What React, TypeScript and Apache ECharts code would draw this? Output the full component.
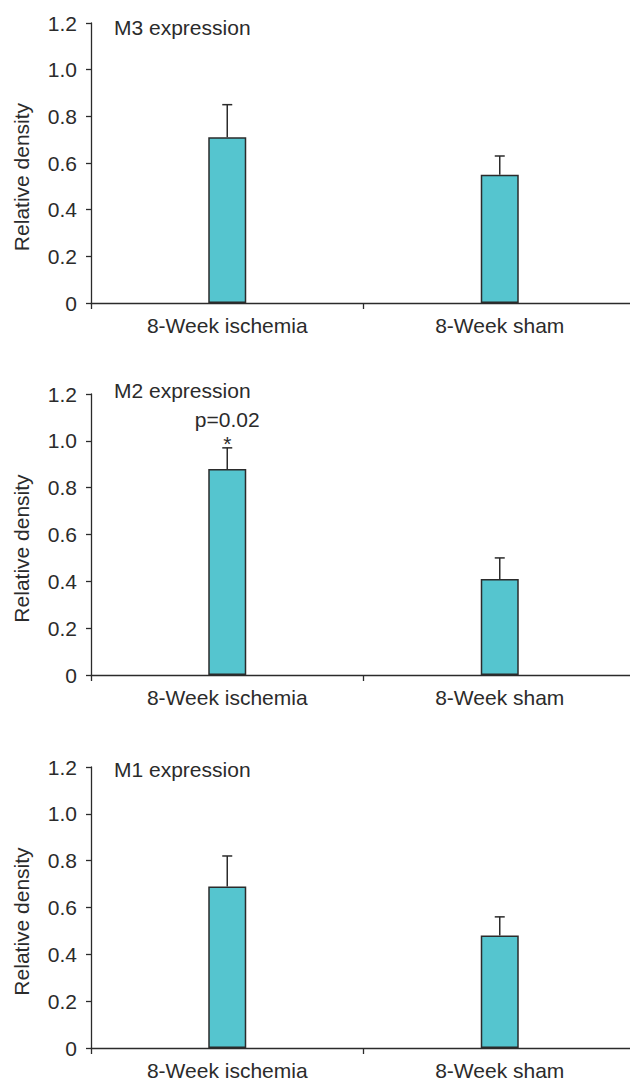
import React, { useEffect, useRef } from "react";
import * as echarts from "echarts";

const categories = ["8-Week ischemia", "8-Week sham"];
const panelTitles = ["M3 expression", "M2 expression", "M1 expression"];
const m3Mean = [0.71, 0.55];
const m3Err = [0.14, 0.08];
const m2Mean = [0.88, 0.41];
const m2Err = [0.09, 0.09];
const m1Mean = [0.69, 0.48];
const m1Err = [0.13, 0.08];
const m2Annotation = ["p=0.02", "*"]; // above 8-Week ischemia in M2 panel
const yMin = 0;
const yMax = 1.2;
const yInterval = 0.2;
const yName = "Relative density";

const FONT = "'Liberation Sans', Arial, Helvetica, sans-serif";
const INK = "#2b2b2b";
const BAR = "#55c5cf";

export default function App() {
  const ref = useRef<HTMLDivElement>(null);
  useEffect(() => {
    document.body.style.margin = "0";
    if (!ref.current) return;
    const chart = echarts.init(ref.current, null, { renderer: "svg" });
    const means = [m3Mean, m2Mean, m1Mean];
    const errs = [m3Err, m2Err, m1Err];
    const annots: (string[] | null)[] = [null, m2Annotation, null];
    const gridTops = [23, 394, 767];
    const gridHeights = [280, 281, 281];
    const titleTops = [17, 380, 759];
    const grids = gridTops.map((t, i) => ({
      left: 91,
      top: t,
      width: 545,
      height: gridHeights[i],
      containLabel: false,
      outerBoundsMode: "none",
    }));
    const xAxes = gridTops.map((_, i) => ({
      type: "category",
      gridIndex: i,
      data: categories,
      boundaryGap: true,
      axisLine: { lineStyle: { color: INK, width: 1.3 } },
      axisTick: { show: true, length: 6, lineStyle: { color: INK, width: 1.3 } },
      axisLabel: { color: INK, fontSize: 21, lineHeight: 18, fontFamily: FONT, margin: 13 },
      splitLine: { show: false },
    }));
    const yAxes = gridTops.map((_, i) => ({
      type: "value",
      gridIndex: i,
      min: yMin,
      max: yMax,
      interval: yInterval,
      axisLine: { show: true, lineStyle: { color: INK, width: 1.3 } },
      axisTick: { show: true, length: 5, lineStyle: { color: INK, width: 1.3 } },
      axisLabel: {
        color: INK,
        fontSize: 21,
        fontFamily: FONT,
        margin: 14,
        formatter: (v: number) => (v === 0 ? "0" : v.toFixed(1)),
      },
      splitLine: { show: false },
    }));
    const series: any[] = [];
    means.forEach((m, i) => {
      series.push({
        type: "bar",
        xAxisIndex: i,
        yAxisIndex: i,
        data: m,
        barWidth: 38,
        itemStyle: { color: BAR, borderColor: INK, borderWidth: 1.5 },
        z: 2,
      });
      const annot = annots[i];
      series.push({
        type: "custom",
        xAxisIndex: i,
        yAxisIndex: i,
        clip: false,
        z: 3,
        encode: { x: 0, y: 1 },
        data: m.map((v, j) => [j, v, errs[i][j]]),
        renderItem: (params: any, api: any) => {
          const x = api.value(0);
          const v = api.value(1);
          const e = api.value(2);
          const base = api.coord([x, v]);
          const top = api.coord([x, v + e]);
          const style = { stroke: INK, lineWidth: 1.5 };
          const children: any[] = [
            { type: "line", shape: { x1: base[0], y1: base[1], x2: top[0], y2: top[1] }, style },
            { type: "line", shape: { x1: top[0] - 5, y1: top[1], x2: top[0] + 5, y2: top[1] }, style },
          ];
          if (annot && params.dataIndex === 0) {
            children.push({
              type: "text",
              style: {
                text: annot[0],
                x: top[0],
                y: top[1] - 28,
                align: "center",
                verticalAlign: "middle",
                fontSize: 21,
                fontFamily: FONT,
                fill: INK,
              },
            });
            children.push({
              type: "text",
              style: {
                text: annot[1],
                x: top[0],
                y: top[1] - 4,
                align: "center",
                verticalAlign: "middle",
                fontSize: 21,
                fontFamily: FONT,
                fill: INK,
              },
            });
          }
          return { type: "group", children };
        },
      });
    });
    const titles = panelTitles.map((t, i) => ({
      text: t,
      left: 114,
      top: titleTops[i],
      padding: 0,
      textStyle: { color: INK, fontSize: 21, fontWeight: "normal", fontFamily: FONT },
    }));
    const graphic = gridTops.map((t, i) => ({
      type: "text",
      x: 21,
      y: t + gridHeights[i] / 2 + 14,
      rotation: Math.PI / 2,
      style: {
        text: yName,
        align: "center",
        verticalAlign: "middle",
        fontSize: 21,
        fontFamily: FONT,
        fill: INK,
      },
    }));
    chart.setOption({
      animation: false,
      backgroundColor: "#ffffff",
      title: titles,
      grid: grids,
      xAxis: xAxes,
      yAxis: yAxes,
      series,
      graphic,
    });
    return () => chart.dispose();
  }, []);
  return <div ref={ref} style={{ width: 630, height: 1080 }} />;
}
